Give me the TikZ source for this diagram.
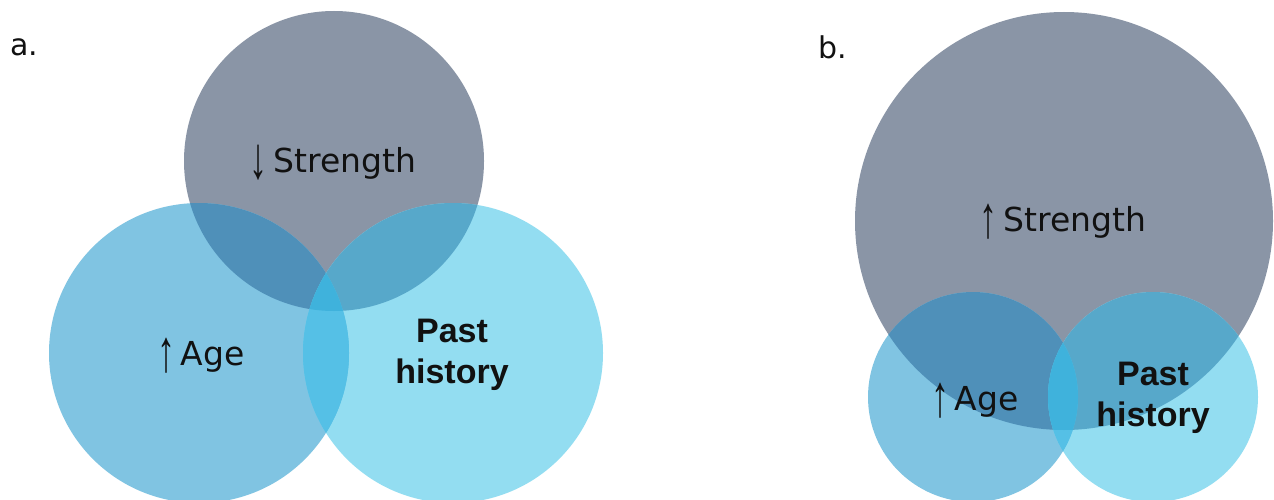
\documentclass[tikz,border=0pt]{standalone}
\usepackage{fontspec}
\setmainfont{DejaVu Sans}
\newfontfamily\pastfont{Liberation Sans}
\usetikzlibrary{positioning}
\definecolor{Slate}{HTML}{8A95A6}
\definecolor{AgeBlue}{HTML}{80C4E2}
\definecolor{PastBlue}{HTML}{93DDF1}
\definecolor{AgeSlate}{HTML}{4F90B9}
\definecolor{PastSlate}{HTML}{57A8CA}
\definecolor{AgePast}{HTML}{55C0E6}
\definecolor{AllThree}{HTML}{3FB2DC}
\definecolor{Ink}{HTML}{111111}
\newcommand{\upmark}{\raisebox{-6pt}{\pastfont\fontsize{36}{38}\selectfont\scalebox{1}[1.65]{↑}}\,}
\newcommand{\downmark}{\raisebox{-6pt}{\pastfont\fontsize{36}{38}\selectfont\scalebox{1}[1.65]{↓}}\,}
\tikzset{
  factor/.style={text=Ink, font=\fontsize{33}{38}\selectfont, inner sep=0pt},
  history/.style={text=Ink, font=\pastfont\bfseries\fontsize{34}{41}\selectfont, align=center, inner sep=0pt},
  panel/.style={text=Ink, font=\fontsize{30}{36}\selectfont, anchor=west, inner sep=0pt}
}

\begin{document}
\begin{tikzpicture}[x=1pt, y=-1pt]
  \useasboundingbox (0,0) rectangle (1274,500);
  \fill[white] (0,0) rectangle (1274,500);

  % panel a
  \coordinate (sa) at (334,161);
  \coordinate (aa) at (199,353);
  \coordinate (pa) at (453,353);
  \fill[Slate] (sa) circle (150pt);
  \fill[AgeBlue] (aa) circle (150pt);
  \fill[PastBlue] (pa) circle (150pt);
  \begin{scope}
    \clip (aa) circle (150pt);
    \fill[AgeSlate] (sa) circle (150pt);
    \fill[AgePast] (pa) circle (150pt);
  \end{scope}
  \begin{scope}
    \clip (pa) circle (150pt);
    \fill[PastSlate] (sa) circle (150pt);
    \clip (aa) circle (150pt);
    \fill[AgePast] (pa) circle (150pt);
    \fill[AllThree] (sa) circle (150pt);
  \end{scope}

  \node[panel] (la) at (10,47) {a.};
  \node[factor] (stra) at (333,163) {\downmark Strength};
  \node[factor] (agea) at (201,356) {\upmark Age};
  \node[history] (pasta) at (452,355) {Past\\history};

  % panel b
  \coordinate (sb) at (1064,221);
  \coordinate (ab) at (973,397);
  \coordinate (pb) at (1153,397);
  \fill[Slate] (sb) circle (209pt);
  \fill[AgeBlue] (ab) circle (105pt);
  \fill[PastBlue] (pb) circle (105pt);
  \begin{scope}
    \clip (ab) circle (105pt);
    \fill[AgeSlate] (sb) circle (209pt);
    \fill[AgePast] (pb) circle (105pt);
  \end{scope}
  \begin{scope}
    \clip (pb) circle (105pt);
    \fill[PastSlate] (sb) circle (209pt);
    \clip (ab) circle (105pt);
    \fill[AgePast] (pb) circle (105pt);
    \fill[AllThree] (sb) circle (209pt);
  \end{scope}

  \node[panel] (lb) at (818,47) {b.};
  \node[factor] (strb) at (1063,222) {\upmark Strength};
  \node[factor] (ageb) at (975,401) {\upmark Age};
  \node[history] (pastb) at (1153,398) {Past\\history};
\end{tikzpicture}
\end{document}
